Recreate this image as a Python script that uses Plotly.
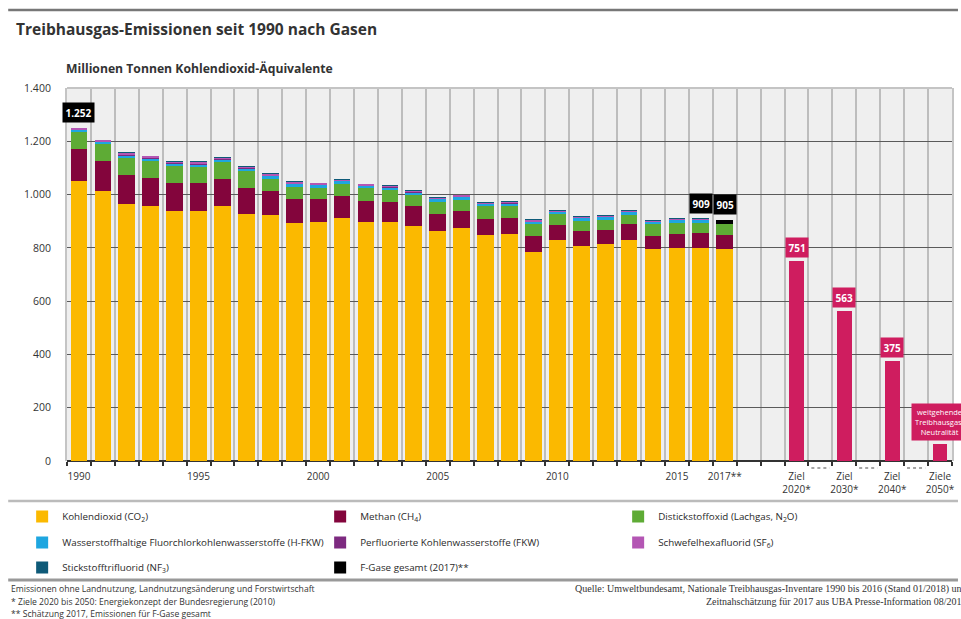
import plotly.graph_objects as go

# ---------------- data ----------------
years = [1990, 1991, 1992, 1993, 1994, 1995, 1996, 1997, 1998, 1999,
         2000, 2001, 2002, 2003, 2004, 2005, 2006, 2007, 2008, 2009,
         2010, 2011, 2012, 2013, 2014, 2015, 2016, 2017]
co2 = [1052, 1014, 966, 956, 937, 937, 958, 928, 922, 894,
       897, 913, 898, 896, 883, 865, 873, 849, 851, 785,
       830, 806, 813, 831, 794, 799, 800, 797]
ch4 = [120, 113, 108, 108, 107, 105, 101, 98, 91, 91,
       88, 83, 79, 77, 73, 62, 66, 60, 60, 58,
       57, 58, 54, 57, 52, 54, 54, 52]
n2o = [65, 66, 67, 62, 64, 63, 64, 64, 47, 44,
       41, 44, 46, 45, 43, 46, 42, 47, 45, 46,
       39, 38, 38, 37, 42, 41, 40, 42]
hfc = [6, 6, 7, 9, 9, 9, 9, 9, 11, 12,
       11, 12, 11, 10, 10, 11, 10, 11, 12, 11,
       11, 11, 12, 12, 11, 11, 11, None]
pfc = [3, 2, 2.5, 2.5, 2, 2, 2, 1.5, 1.5, 1,
       1, 1, 0.8, 0.8, 0.7, 0.7, 0.5, 0.5, 0.5, 0.4,
       0.4, 0.4, 0.4, 0.4, 0.3, 0.3, 0.3, None]
sf6 = [4, 4, 6, 7, 6, 7, 6, 4.5, 5.5, 6,
       5, 5, 4, 4, 4, 4, 3.5, 3.5, 4.5, 4.5,
       3.5, 3.5, 5.5, 4.5, 4, 3.7, 4, None]
nf3 = [0.02, 0.02, 0.02, 0.02, 0.02, 0.03, 0.03, 0.03, 0.03, 0.03,
       0.03, 0.03, 0.03, 0.03, 0.03, 0.03, 0.03, 0.04, 0.04, 0.04,
       0.04, 0.04, 0.04, 0.04, 0.04, 0.04, 0.04, None]
fgas_years = [2017]
fgas_total = [14]

callout_years = [1990, 2016, 2017]
callout_texts = ["1.252", "909", "905"]

target_labels = ["Ziel<br>2020*", "Ziel<br>2030*", "Ziel<br>2040*", "Ziele<br>2050*"]
target_values = [751, 563, 375, 63]
target_texts = ["751", "563", "375", "weitgehende<br>Treibhausgas-<br>Neutralität"]

year_tick_years = [1990, 1995, 2000, 2005, 2010, 2015, 2017]
year_tick_texts = ["1990", "1995", "2000", "2005", "2010", "2015", "2017**"]

y_ticks = [0, 200, 400, 600, 800, 1000, 1200, 1400]
y_tick_texts = ["0", "200", "400", "600", "800", "1.000", "1.200", "1.400"]

series_names = [
    "Kohlendioxid (CO<sub>2</sub>)",
    "Methan (CH<sub>4</sub>)",
    "Distickstoffoxid (Lachgas, N<sub>2</sub>O)",
    "Wasserstoffhaltige Fluorchlorkohlenwasserstoffe (H-FKW)",
    "Perfluorierte Kohlenwasserstoffe (FKW)",
    "Schwefelhexafluorid (SF<sub>6</sub>)",
    "Stickstofftrifluorid (NF<sub>3</sub>)",
    "F-Gase gesamt (2017)**",
]
series_colors = ["#fbb900", "#83053c", "#5eab35", "#1ea6e0",
                 "#7d2a80", "#b456b4", "#0e5a78", "#000000"]
target_color = "#cf1d5f"

footnotes_left = [
    "Emissionen ohne Landnutzung, Landnutzungsänderung und Forstwirtschaft",
    "* Ziele 2020 bis 2050: Energiekonzept der Bundesregierung (2010)",
    "** Schätzung 2017, Emissionen für F-Gase gesamt",
]
footnotes_right = [
    "Quelle: Umweltbundesamt, Nationale Treibhausgas-Inventare 1990 bis 2016 (Stand 01/2018) und",
    "Zeitnahschätzung für 2017 aus UBA Presse-Information 08/2018",
]

# ---------------- layout geometry ----------------
W, H = 961, 619
ML, MR, MT, MB = 67, 6, 88, 158
PW, PH = W - ML - MR, H - MT - MB
FIRST_YEAR = years[0]
first_target_slot = 30
target_slots = [first_target_slot + 2 * i for i in range(len(target_values))]
gap_slots = [s - 1 for s in target_slots[1:]]


def px(xp):
    return (xp - ML) / PW


def py(yp):
    return (H - MB - yp) / PH


FONT = "Open Sans"
x_hist = [y - FIRST_YEAR for y in years]
legend_of = ["legend", "legend", "legend", "legend2", "legend2", "legend2", "legend3", "legend3"]

fig = go.Figure()
stack = [co2, ch4, n2o, hfc, pfc, sf6, nf3]
for k, (name, vals, col) in enumerate(zip(series_names[:7], stack, series_colors[:7])):
    fig.add_trace(go.Bar(x=x_hist, y=vals, name=name, marker_color=col,
                         marker_line_width=0, width=0.7, legend=legend_of[k]))
fig.add_trace(go.Bar(x=[y - FIRST_YEAR for y in fgas_years], y=fgas_total,
                     name=series_names[7], marker_color=series_colors[7],
                     marker_line_width=0, width=0.7, legend=legend_of[7]))
fig.add_trace(go.Bar(x=target_slots, y=target_values, marker_color=target_color,
                     marker_line_width=0, width=0.62, showlegend=False))

annotations = []
# black callouts
for yr, txt in zip(callout_years, callout_texts):
    i = years.index(yr)
    tot = sum(v[i] for v in stack if v[i] is not None)
    if yr in fgas_years:
        tot += fgas_total[fgas_years.index(yr)]
    annotations.append(dict(x=yr - FIRST_YEAR, y=tot, xref="x", yref="y",
                            text="<b>%s</b>" % txt, showarrow=False,
                            yanchor="bottom", yshift=5, bgcolor="#000000",
                            borderpad=2.5, font=dict(family=FONT, size=10, color="white")))
# target callouts
for s, v, txt in zip(target_slots, target_values, target_texts):
    small = "<br>" in txt
    annotations.append(dict(x=s, y=v, xref="x", yref="y",
                            text=txt if small else "<b>%s</b>" % txt, showarrow=False,
                            yanchor="bottom", yshift=3, bgcolor=target_color,
                            borderpad=3 if small else 2.5,
                            font=dict(family=FONT, size=7.5 if small else 10, color="white")))
# titles
annotations.append(dict(x=px(14), y=py(29), xref="paper", yref="paper",
                        text="<b>Treibhausgas-Emissionen seit 1990 nach Gasen</b>",
                        showarrow=False, xanchor="left", yanchor="middle",
                        font=dict(family=FONT, size=15.5, color="#333333")))
annotations.append(dict(x=px(64), y=py(69), xref="paper", yref="paper",
                        text="<b>Millionen Tonnen Kohlendioxid-Äquivalente</b>",
                        showarrow=False, xanchor="left", yanchor="middle",
                        font=dict(family=FONT, size=12.2, color="#333333")))
# footnotes
for k, line in enumerate(footnotes_left):
    annotations.append(dict(x=px(9), y=py(589 + 12.5 * k), xref="paper", yref="paper",
                            text=line, showarrow=False, xanchor="left", yanchor="middle",
                            font=dict(family=FONT, size=8.6, color="#333333")))
for k, line in enumerate(footnotes_right):
    annotations.append(dict(x=px(972), y=py(589 + 12.5 * k), xref="paper", yref="paper",
                            text=line, showarrow=False, xanchor="right", yanchor="middle",
                            font=dict(family="Liberation Serif", size=10, color="#333333")))

shapes = []
for (y_line, col, wdt) in [(10, "#777777", 2.5), (501, "#bbbbbb", 2.5), (580, "#999999", 3)]:
    shapes.append(dict(type="line", xref="paper", yref="paper",
                       x0=px(8), x1=px(961), y0=py(y_line), y1=py(y_line),
                       line=dict(color=col, width=wdt)))
# light frame on top edge
shapes.append(dict(type="line", xref="paper", yref="paper", x0=0, x1=1, y0=1, y1=1,
                   line=dict(color="#c4c4c4", width=2), layer="above"))
# axis-break dashes between target bars
for s in gap_slots:
    shapes.append(dict(type="line", xref="x", yref="paper", x0=s - 0.38, x1=s + 0.38,
                       y0=py(468), y1=py(468), line=dict(color="#888888", width=1.5, dash="dot")))

legend_font = dict(family=FONT, size=9.8, color="#2a2a2a")


def legend_row(top_px):
    return dict(orientation="h", x=px(22), y=py(top_px), xanchor="left", yanchor="top",
                entrywidth=253, entrywidthmode="pixels", traceorder="normal",
                font=legend_font, bgcolor="rgba(0,0,0,0)")


fig.update_layout(
    width=W, height=H,
    margin=dict(l=ML, r=MR, t=MT, b=MB, pad=0),
    paper_bgcolor="white",
    plot_bgcolor="#efefef",
    barmode="stack",
    bargap=0,
    showlegend=True,
    legend=legend_row(502),
    legend2=legend_row(528),
    legend3=legend_row(553),
    annotations=annotations,
    shapes=shapes,
    xaxis=dict(range=[-0.5, 36.5], tickmode="array",
               tickvals=[y - FIRST_YEAR for y in year_tick_years] + target_slots,
               ticktext=year_tick_texts + target_labels,
               ticks="", showgrid=False, zeroline=False, showline=False,
               ticklabelstandoff=8,
               tickfont=dict(family=FONT, size=10, color="#333333"),
               minor=dict(tickmode="linear", tick0=-0.5, dtick=1, showgrid=True,
                          gridcolor="#bdbdbd", gridwidth=2, ticks="outside",
                          ticklen=4, tickcolor="#333333", tickwidth=1.5)),
    yaxis=dict(range=[0, 1400], tickmode="array", tickvals=y_ticks, ticktext=y_tick_texts,
               showgrid=True, gridcolor="#5a5a5a", gridwidth=1,
               zeroline=True, zerolinecolor="#333333", zerolinewidth=2,
               showline=True, mirror=True, linecolor="#c4c4c4", linewidth=2,
               ticks="", ticklabelstandoff=12,
               tickfont=dict(family=FONT, size=10.5, color="#333333")),
    font=dict(family=FONT, color="#333333"),
)

fig.write_html("out.html", config={"displayModeBar": False},
               post_script="document.body.style.margin='0';document.body.style.overflow='hidden';")
